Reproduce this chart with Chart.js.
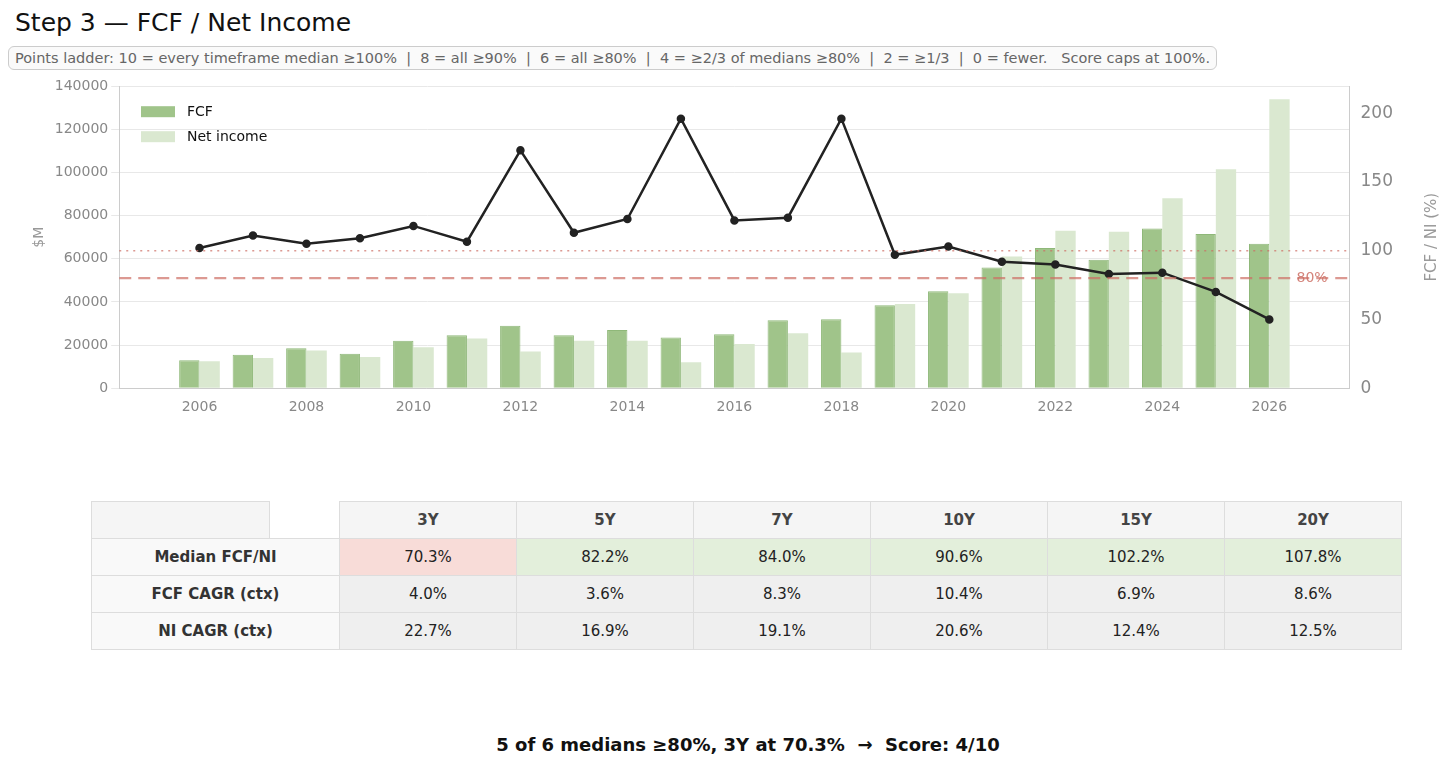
<!DOCTYPE html>
<html><head><meta charset="utf-8">
<script src="https://cdn.jsdelivr.net/npm/chart.js@4.4.0/dist/chart.umd.min.js"></script>
<style>
body{margin:0;width:1456px;height:769px;background:#fff;font-family:"DejaVu Sans",sans-serif;position:relative;overflow:hidden}
#title{position:absolute;left:15px;top:8px;font-size:25px;color:#111}
#sub{position:absolute;left:8px;top:46px;font-size:14.5px;color:#666;border:1px solid #ccc;border-radius:6px;padding:3px 6px;background:#fafafa;white-space:pre}
#wrap{position:absolute;left:0;top:73px;width:1456px;height:346px}
table{position:absolute;left:91px;top:501px;border-collapse:collapse;font-size:15px;color:#222}
td{border:1px solid #ddd;height:36px;text-align:center;padding:0}
#foot{position:absolute;left:0;width:1496px;top:734px;text-align:center;font-weight:bold;font-size:18px;color:#111}
</style></head><body>
<div id="title">Step 3 — FCF / Net Income</div>
<div id="sub">Points ladder: 10 = every timeframe median ≥100%  |  8 = all ≥90%  |  6 = all ≥80%  |  4 = ≥2/3 of medians ≥80%  |  2 = ≥1/3  |  0 = fewer.   Score caps at 100%.</div>
<div id="wrap"><canvas id="c"></canvas></div>
<div id="tbl"></div>
<div id="foot">5 of 6 medians ≥80%, 3Y at 70.3%&nbsp; →&nbsp; Score: 4/10</div>
<script>
const years=['2005','2006','2007','2008','2009','2010','2011','2012','2013','2014','2015','2016','2017','2018','2019','2020','2021','2022','2023','2024','2025','2026','2027'];
const fcf=[null,13000,15500,18500,16000,22000,24500,29000,24500,27000,23500,25000,31500,32000,38500,45000,56000,65000,59500,74000,71500,67000,null];
const netIncome=[null,12500,14000,17500,14500,19000,23000,17000,22000,22000,12000,20500,25500,16500,39000,44000,61000,73000,72500,88000,101500,134000,null];
const ratio=[null,102,111,105,109,118,106.5,173,113,123,196,122,124,196,97,103,92,90,83,84,70,50,null];
const periods=['3Y','5Y','7Y','10Y','15Y','20Y'];
const medianFcfNi=['70.3%','82.2%','84.0%','90.6%','102.2%','107.8%'];
const fcfCagr=['4.0%','3.6%','8.3%','10.4%','6.9%','8.6%'];
const niCagr=['22.7%','16.9%','19.1%','20.6%','12.4%','12.5%'];

let h='<table><tr><td style="width:177px;background:#f5f5f5"></td><td style="width:69px;border-top:none;border-bottom:1px solid #ddd;border-left:1px solid #ddd"></td>';
periods.forEach(p=>h+=`<td style="width:176px;background:#f5f5f5;font-weight:bold;color:#444">${p}</td>`);
h+='</tr>';
function row(lbl,arr,bgf){h+=`<tr><td colspan="2" style="background:#f9f9f9;font-weight:bold;color:#333">${lbl}</td>`;arr.forEach((v,i)=>h+=`<td style="background:${bgf(i)}">${v}</td>`);h+='</tr>';}
row('Median FCF/NI',medianFcfNi,i=>parseFloat(medianFcfNi[i])>=80?'#e3efdb':'#f8dcd8');
row('FCF CAGR (ctx)',fcfCagr,()=>'#efefef');
row('NI CAGR (ctx)',niCagr,()=>'#efefef');
h+='</table>';
document.getElementById('tbl').innerHTML=h;

const refLines={id:'refLines',afterDatasetsDraw(ch){const c=ch.ctx,a=ch.chartArea,y=ch.scales.y1;c.save();c.strokeStyle='rgba(205,110,100,0.7)';
c.lineWidth=1.5;c.setLineDash([2,5]);let p=y.getPixelForValue(100);c.beginPath();c.moveTo(a.left,p);c.lineTo(a.right,p);c.stroke();
c.lineWidth=2.2;c.setLineDash([12,7]);p=y.getPixelForValue(80);c.beginPath();c.moveTo(a.left,p);c.lineTo(a.right,p);c.stroke();
c.setLineDash([]);c.fillStyle='rgba(205,110,100,0.85)';c.font='14px "DejaVu Sans"';c.textBaseline='middle';c.fillText('80%',a.right-53,p);c.restore();}};
Chart.defaults.font.family='"DejaVu Sans"';
new Chart(document.getElementById('c'),{
 data:{labels:years,datasets:[
  {type:'line',label:'ratio',data:ratio,yAxisID:'y1',borderColor:'#222',backgroundColor:'#222',borderWidth:2.5,pointRadius:3,order:0},
  {type:'bar',label:'FCF',data:fcf,yAxisID:'y',backgroundColor:'#a0c48a',borderColor:'#8fb879',borderWidth:1,barPercentage:1,categoryPercentage:0.76,order:1},
  {type:'bar',label:'Net income',data:netIncome,yAxisID:'y',backgroundColor:'#dae8d0',barPercentage:1,categoryPercentage:0.76,order:2}
 ]},
 options:{responsive:true,maintainAspectRatio:false,animation:false,
  layout:{padding:{left:27,right:60,top:0,bottom:0}},
  plugins:{legend:{display:false},tooltip:{enabled:false}},
  scales:{
   x:{grid:{display:false},border:{color:'#ccc'},ticks:{color:'#888',font:{size:14},autoSkip:false,maxRotation:0,callback:function(v,i){const y=+years[i];return y%2===0?years[i]:'';}}},
   y:{position:'left',min:0,max:140000,ticks:{stepSize:20000,color:'#888',font:{size:14},callback:v=>String(v)},grid:{color:'#e8e8e8'},border:{color:'#ccc'},title:{display:true,text:'$M',color:'#999',font:{size:14}}},
   y1:{position:'right',min:0,max:219.6,ticks:{stepSize:50,color:'#888',font:{size:17},callback:v=>v%50===0?v:null},grid:{display:false},border:{color:'#ccc'}}
  }},
 plugins:[refLines,{id:'leg',afterDraw(ch){const c=ch.ctx,a=ch.chartArea;c.save();c.font='14px "DejaVu Sans"';c.textBaseline='middle';
  [['FCF','#a0c48a',32],['Net income','#dae8d0',57]].forEach(([t,col,yy])=>{c.fillStyle=col;c.fillRect(141,a.top+yy-26+14,34,11);c.fillStyle='#111';c.fillText(t,187,a.top+yy-26+20);});
  c.translate(1432,(a.top+a.bottom)/2);c.rotate(-Math.PI/2);c.textAlign='center';c.fillStyle='#999';c.font='15px "DejaVu Sans"';c.fillText('FCF / NI (%)',0,0);c.restore();}}]
});
</script></body></html>
